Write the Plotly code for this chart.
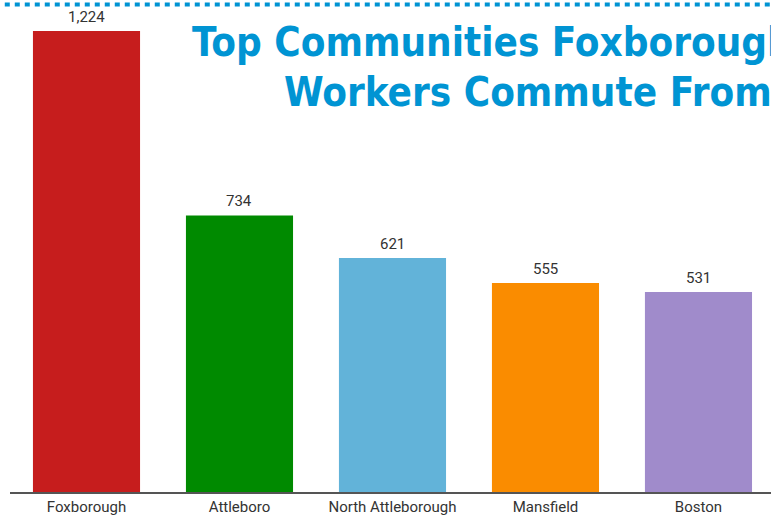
import plotly.graph_objects as go

categories = ["Foxborough", "Attleboro", "North Attleborough", "Mansfield", "Boston"]
workers = [1224, 734, 621, 555, 531]
colors = ["#C61D1D", "#008A00", "#62B3D9", "#FA8C00", "#A08BCB"]
title_lines = ["Top Communities Foxborough", "Workers Commute From"]

xs = list(range(len(categories)))

fig = go.Figure(go.Bar(
    x=xs,
    y=workers,
    marker=dict(color=colors, line=dict(width=0)),
    cliponaxis=False,
))

for xi, v in zip(xs, workers):
    fig.add_annotation(
        x=xi, y=v, xref="x", yref="y", text=f"{v:,}",
        showarrow=False, yanchor="bottom", yshift=3,
        font=dict(family="Roboto", size=15, color="#333333"),
    )

fig.update_layout(
    width=771, height=517,
    margin=dict(l=10, r=0, t=0, b=25),
    paper_bgcolor="white", plot_bgcolor="white",
    showlegend=False,
    bargap=0.30,
    xaxis=dict(
        range=[-0.5, 4.474],
        tickmode="array",
        tickvals=xs,
        ticktext=categories,
        showgrid=False, zeroline=False,
        showline=True, linecolor="#555555", linewidth=2,
        ticks="", ticklen=0, tickfont=dict(family="Roboto", size=15, color="#333333"),
    ),
    yaxis=dict(
        range=[0, 1306], visible=False, showgrid=False, zeroline=False,
    ),
)

title_x = [0.2365, 0.3574]
title_y = [0.965, 0.863]
for line, tx, ty in zip(title_lines, title_x, title_y):
    fig.add_annotation(
        text=f"<b>{line}</b>", xref="paper", yref="paper",
        x=tx, y=ty, xanchor="left", yanchor="top",
        align="left", showarrow=False,
        font=dict(family="DejaVu Sans Condensed", size=40, color="#0094D3"),
    )

fig.add_shape(
    type="line", xref="paper", yref="paper",
    x0=-0.02, x1=1.02, y0=0.991, y1=0.991,
    line=dict(color="#0094D3", width=4, dash="5px,5px"),
    layer="above",
)

fig.write_html(
    "out.html",
    config={"displayModeBar": False},
    post_script="document.body.style.margin='0';document.body.style.overflow='hidden';",
)
